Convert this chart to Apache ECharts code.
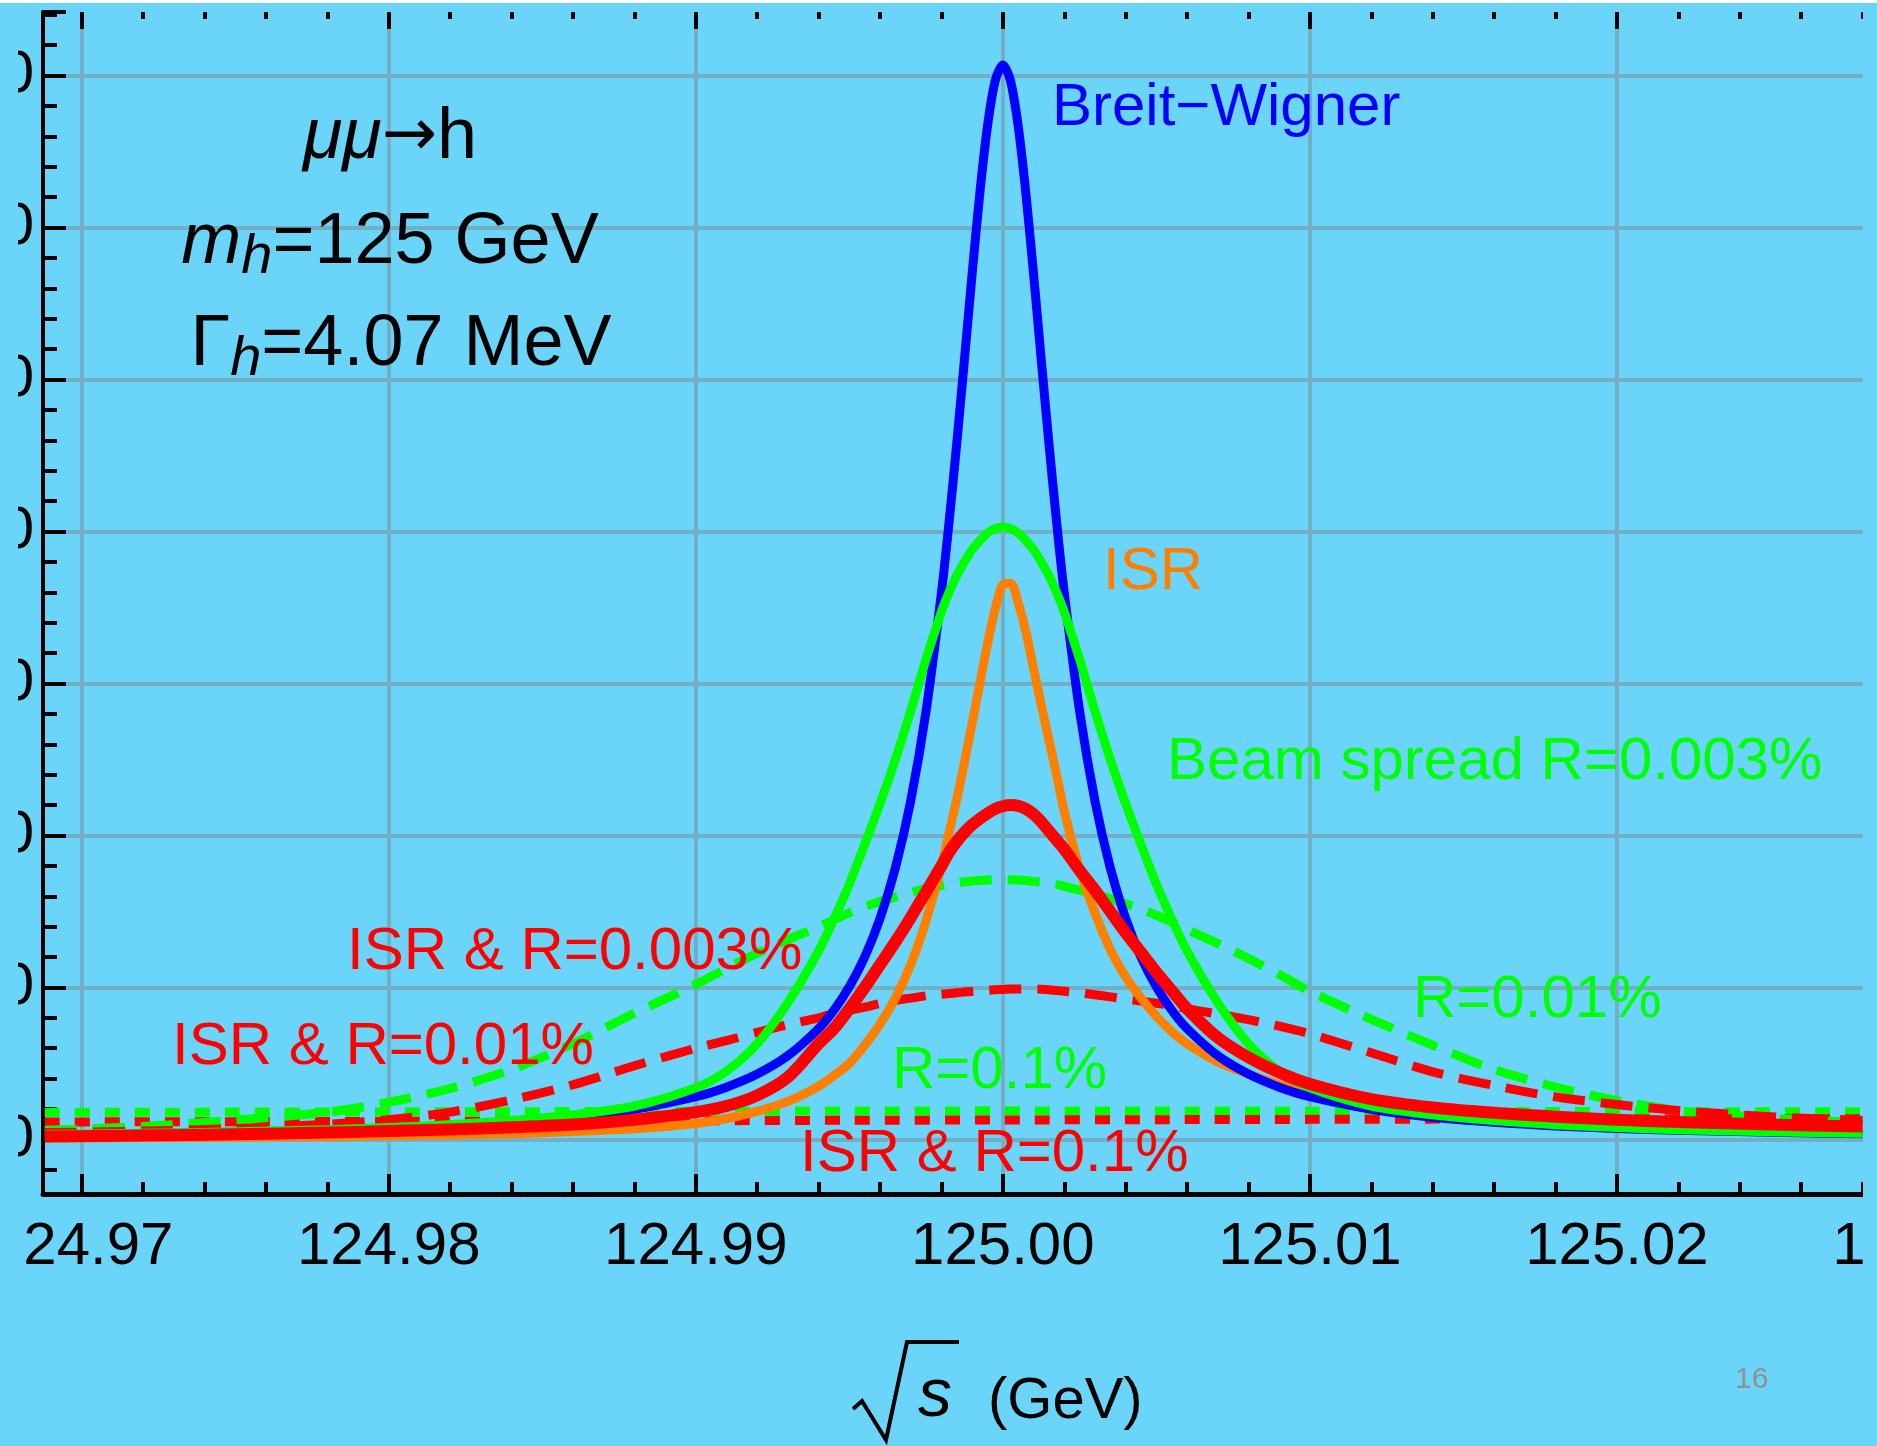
<!DOCTYPE html>
<html>
<head>
<meta charset="utf-8">
<script src="https://cdn.jsdelivr.net/npm/echarts@6/dist/echarts.min.js"></script>
<style>
  html, body { margin: 0; padding: 0; background: #6AD5F9; }
  #c { width: 1877px; height: 1446px; }
</style>
</head>
<body>
<div id="c"></div>
<script>
// ---- data ----
// sqrt(s) sample points in GeV
const sqrtS = [124.9688, 124.972, 124.975, 124.978, 124.980, 124.982, 124.984, 124.986, 124.988, 124.990,
  124.991, 124.992, 124.993, 124.994, 124.9945, 124.995, 124.9955, 124.996, 124.9965, 124.997,
  124.9975, 124.998, 124.99825, 124.9985, 124.99875, 124.999, 124.99925, 124.9995, 124.99975, 125.000,
  125.00025, 125.0005, 125.00075, 125.001, 125.00125, 125.0015, 125.00175, 125.002, 125.0025, 125.003,
  125.0035, 125.004, 125.0045, 125.005, 125.0055, 125.006, 125.007, 125.008, 125.009, 125.010,
  125.012, 125.014, 125.016, 125.018, 125.020, 125.022, 125.025, 125.028];

const breitWigner = [0.30, 0.37, 0.47, 0.60, 0.72, 0.89, 1.13, 1.46, 1.98, 2.81,
  3.44, 4.30, 5.51, 7.29, 8.51, 10.05, 12.00, 14.54, 17.86, 22.28,
  28.18, 35.96, 40.64, 45.81, 51.33, 56.95, 62.25, 66.67, 69.65, 70.7,
  69.65, 66.67, 62.25, 56.95, 51.33, 45.81, 40.64, 35.96, 28.18, 22.28,
  17.86, 14.54, 12.00, 10.05, 8.51, 7.29, 5.51, 4.30, 3.44, 2.81,
  1.98, 1.46, 1.13, 0.89, 0.72, 0.60, 0.47, 0.37];

const isrOnly = [0.10, 0.12, 0.15, 0.20, 0.25, 0.30, 0.38, 0.52, 0.70, 1.05,
  1.38, 1.85, 2.5, 3.5, 4.2, 5.0, 6.2, 7.6, 9.3, 11.5,
  14.4, 18.0, 20.2, 22.4, 24.8, 27.4, 30.0, 32.6, 34.9, 36.5,
  36.6, 35.3, 33.4, 31.0, 28.6, 26.3, 24.0, 21.6, 17.8, 14.9,
  12.5, 10.7, 9.3, 8.1, 7.1, 6.3, 5.1, 4.3, 3.6, 3.1,
  2.35, 1.85, 1.5, 1.25, 1.05, 0.9, 0.75, 0.63];

const spread003 = [0.33, 0.40, 0.50, 0.64, 0.78, 0.97, 1.24, 1.62, 2.2, 3.4,
  4.5, 6.3, 9.0, 12.4, 14.5, 16.8, 19.4, 22.1, 25.0, 28.2,
  31.6, 34.7, 36.0, 37.1, 38.0, 38.8, 39.4, 39.9, 40.2, 40.3,
  40.2, 39.9, 39.4, 38.8, 38.0, 37.1, 36.0, 34.7, 31.6, 28.2,
  25.0, 22.1, 19.4, 16.8, 14.5, 12.4, 9.0, 6.3, 4.5, 3.4,
  2.2, 1.62, 1.24, 0.97, 0.78, 0.64, 0.50, 0.40];

const isrSpread003 = [0.20, 0.26, 0.34, 0.45, 0.55, 0.66, 0.80, 0.98, 1.3, 1.8,
  2.2, 2.9, 4.1, 6.3, 7.3, 8.6, 10.0, 11.5, 13.0, 14.6,
  16.3, 18.0, 18.9, 19.6, 20.2, 20.7, 21.1, 21.45, 21.75, 21.92,
  22.0, 21.95, 21.75, 21.4, 20.9, 20.3, 19.7, 19.1, 17.7, 16.4,
  15.0, 13.6, 12.3, 11.0, 9.8, 8.6, 6.7, 5.4, 4.4, 3.65,
  2.65, 2.1, 1.75, 1.5, 1.3, 1.15, 0.98, 0.85];

const spread01 = [0.6, 0.85, 1.27, 1.8, 2.45, 3.35, 4.6, 6.3, 8.3, 10.2,
  11.25, 12.25, 13.15, 14.0, 14.45, 14.9, 15.3, 15.65, 15.95, 16.25,
  16.5, 16.7, 16.8, 16.88, 16.95, 17.0, 17.04, 17.07, 17.09, 17.1,
  17.09, 17.07, 17.03, 16.98, 16.93, 16.86, 16.78, 16.65, 16.4, 16.15,
  15.85, 15.5, 15.15, 14.75, 14.3, 13.8, 12.9, 11.9, 10.85, 9.75,
  7.9, 6.2, 4.6, 3.45, 2.55, 1.9, 1.4, 1.1];

const isrSpread01 = [0.45, 0.55, 0.72, 1.0, 1.3, 1.8, 2.6, 3.6, 4.85, 6.0,
  6.5, 7.05, 7.55, 8.0, 8.3, 8.5, 8.7, 8.95, 9.15, 9.3,
  9.45, 9.55, 9.6, 9.65, 9.7, 9.74, 9.78, 9.82, 9.85, 9.87,
  9.9, 9.9, 9.9, 9.9, 9.88, 9.85, 9.8, 9.75, 9.65, 9.52,
  9.38, 9.24, 9.1, 8.96, 8.8, 8.6, 8.25, 7.88, 7.45, 6.95,
  5.7, 4.45, 3.55, 2.8, 2.3, 1.9, 1.5, 1.25];

// broad R = 0.1% curves (nearly flat)
const sqrtSWide = [124.9688, 124.975, 124.980, 124.985, 124.990, 124.995, 125.000, 125.005, 125.010, 125.015, 125.020, 125.028];
const spread1 = [1.78, 1.80, 1.81, 1.83, 1.85, 1.87, 1.88, 1.87, 1.86, 1.84, 1.83, 1.82];
const isrSpread1 = [1.15, 1.17, 1.19, 1.21, 1.23, 1.26, 1.28, 1.30, 1.32, 1.34, 1.35, 1.36];

// ---- chart ----
const FONT = '"Liberation Sans", Arial, Helvetica, sans-serif';
const BG = '#6AD5F9';
const GRID = '#73AFC4';
const pairs = (xs, ys) => xs.map((x, i) => [x, ys[i]]);

const chart = echarts.init(document.getElementById('c'), null, { renderer: 'canvas', width: 1877, height: 1446 });

function line(name, xs, ys, color, width, dash) {
  return {
    name, type: 'line', data: pairs(xs, ys), xAxisIndex: 0, yAxisIndex: 0,
    showSymbol: false, symbol: 'none', smooth: 0.3, silent: true,
    lineStyle: { color, width, type: dash || 'solid', cap: 'butt', join: 'round' }
  };
}

function txt(text, x, y, size, color, extraStyle) {
  return {
    type: 'text', z: 50, silent: true,
    style: Object.assign({
      text, x, y, fill: color, fontSize: size, fontFamily: FONT,
      align: 'left', verticalAlign: 'middle', textAlign: 'left', textVerticalAlign: 'middle'
    }, extraStyle || {})
  };
}

const titleRich = {
  n: { fontSize: 72, fontFamily: FONT, fill: '#000', color: '#000', lineHeight: 84 },
  a: { fontSize: 66, fontFamily: '"DejaVu Sans", sans-serif', fill: '#000', color: '#000', lineHeight: 84 },
  i: { fontSize: 72, fontFamily: FONT, fontStyle: 'italic', fill: '#000', color: '#000', lineHeight: 84 },
  s: { fontSize: 56, fontFamily: FONT, fontStyle: 'italic', fill: '#000', color: '#000', lineHeight: 56, verticalAlign: 'bottom' }
};
function titleLine(text, cx, y) {
  return {
    type: 'text', z: 50, silent: true,
    style: { text, x: cx, y, rich: titleRich, fontSize: 72, fontFamily: FONT, fill: '#000',
      align: 'center', verticalAlign: 'middle', textAlign: 'center', textVerticalAlign: 'middle' }
  };
}

const option = {
  backgroundColor: BG,
  animation: false,
  grid: { left: 43, right: -47, top: 12, bottom: 252, containLabel: false, outerBoundsMode: 'none' },
  xAxis: [
    {
      type: 'value', position: 'bottom', min: 124.96874, max: 125.03, splitNumber: 6,
      axisLine: { show: true, onZero: false, lineStyle: { color: '#000', width: 5 } },
      axisTick: { show: true, inside: true, length: 20, lineStyle: { color: '#000', width: 4 } },
      minorTick: { show: true, splitNumber: 5, length: 12, lineStyle: { color: '#000', width: 4 } },
      axisLabel: { show: true, margin: 23, fontSize: 60, fontFamily: FONT, color: '#000',
        showMinLabel: false, showMaxLabel: true, formatter: v => v.toFixed(2) },
      splitLine: { show: true, showMinLine: false, showMaxLine: false, lineStyle: { color: GRID, width: 4 } },
      minorSplitLine: { show: false }
    },
    {
      type: 'value', position: 'top', min: 124.96874, max: 125.03, splitNumber: 6,
      axisLine: { show: false, onZero: false },
      axisTick: { show: true, inside: true, length: 17, lineStyle: { color: '#000', width: 4 } },
      minorTick: { show: true, splitNumber: 5, length: 7, lineStyle: { color: '#000', width: 4 } },
      axisLabel: { show: false },
      splitLine: { show: false }
    }
  ],
  yAxis: [
    {
      type: 'value', min: -3.59, max: 74.18, splitNumber: 8,
      axisLine: { show: true, onZero: false, lineStyle: { color: '#000', width: 4 } },
      axisTick: { show: true, inside: true, length: 23, lineStyle: { color: '#000', width: 4 } },
      minorTick: { show: true, splitNumber: 5, length: 14, lineStyle: { color: '#000', width: 4 } },
      axisLabel: { show: true, margin: 9, fontSize: 60, fontFamily: FONT, color: '#000',
        showMinLabel: false, showMaxLabel: false },
      splitLine: { show: true, showMinLine: false, showMaxLine: false, lineStyle: { color: GRID, width: 4 } }
    }
  ],
  series: [
    line('R=0.1%', sqrtSWide, spread1, '#00FF00', 9, [15, 15]),
    line('ISR & R=0.1%', sqrtSWide, isrSpread1, '#FF0000', 9, [15, 15]),
    line('R=0.01%', sqrtS, spread01, '#00FF00', 9, [32, 16]),
    line('ISR & R=0.01%', sqrtS, isrSpread01, '#FF0000', 9, [32, 16]),
    line('ISR', sqrtS, isrOnly, '#FF7F00', 9),
    line('Breit-Wigner', sqrtS, breitWigner, '#0000FF', 9),
    line('Beam spread R=0.003%', sqrtS, spread003, '#00FF00', 9),
    line('ISR & R=0.003%', sqrtS, isrSpread003, '#FF0000', 12)
  ],
  graphic: [
    // crop of the original plot picture (slide background around it)
    { type: 'rect', z: 100, silent: true, shape: { x: 0, y: 0, width: 18, height: 1446 }, style: { fill: BG } },
    { type: 'rect', z: 100, silent: true, shape: { x: 0, y: 1205, width: 23, height: 90 }, style: { fill: BG } },
    { type: 'rect', z: 100, silent: true, shape: { x: 1863, y: 0, width: 14, height: 1446 }, style: { fill: BG } },
    { type: 'rect', z: 100, silent: true, shape: { x: 0, y: 0, width: 1877, height: 3 }, style: { fill: '#FFFFFF' } },

    titleLine('{i|μμ}{a|→}{n|h}', 390, 138),
    titleLine('{i|m}{s|h}{n|=125 GeV}', 390, 243),
    titleLine('{n|Γ}{s|h}{n|=4.07 MeV}', 401, 345),

    txt('Breit\u2212Wigner', 1052, 108.5, 60, '#0000FF'),
    txt('ISR', 1103, 572.5, 60, '#FF7F00'),
    txt('Beam spread R=0.003%', 1167, 762.5, 60, '#00FF00'),
    txt('R=0.01%', 1413, 1000, 60, '#00FF00'),
    txt('R=0.1%', 892, 1071, 60, '#00FF00'),
    txt('ISR & R=0.1%', 800, 1154, 60, '#FF0000'),
    txt('ISR & R=0.003%', 347, 952, 60, '#FF0000'),
    txt('ISR & R=0.01%', 172, 1047.5, 60, '#FF0000'),

    // axis title: sqrt(s) (GeV)
    { type: 'polyline', z: 50, silent: true,
      shape: { points: [[853, 1409], [862, 1401], [886, 1440], [907, 1342], [959, 1342]] },
      style: { stroke: '#000', lineWidth: 4, fill: null, lineJoin: 'miter' } },
    txt('s', 918, 1397, 68, '#000', { fontStyle: 'italic' }),
    txt('(GeV)', 988, 1402, 58, '#000'),

    txt('16', 1735, 1379.5, 30, '#8F8F8F')
  ]
};

chart.setOption(option);
</script>
</body>
</html>
